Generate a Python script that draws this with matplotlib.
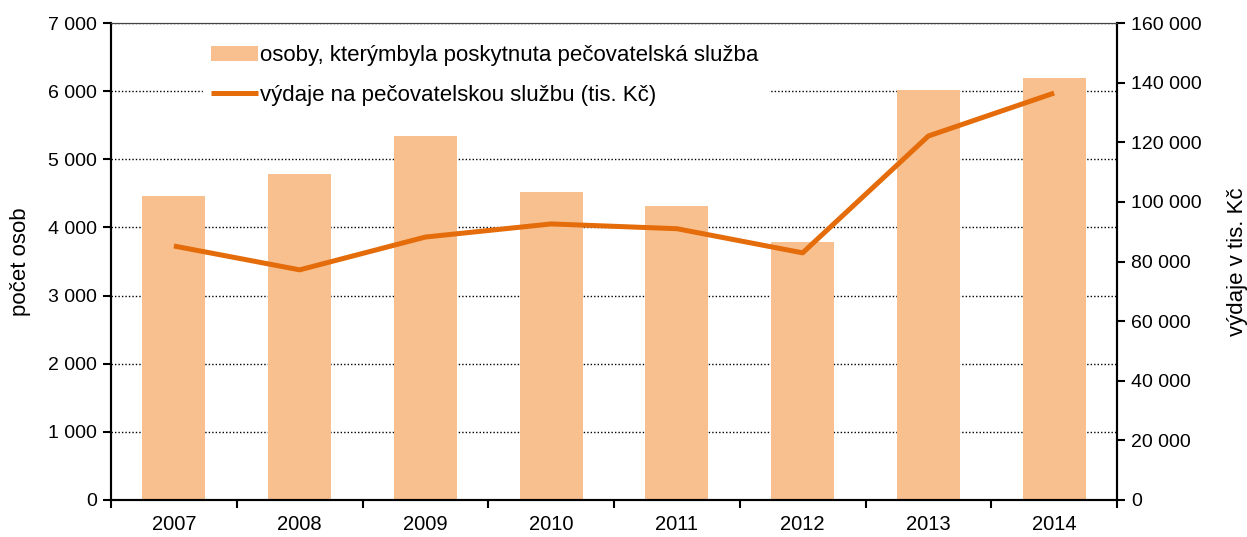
import matplotlib
matplotlib.use("Agg")
import matplotlib.pyplot as plt
from matplotlib.ticker import FuncFormatter, FixedLocator
import numpy as np

years = ["2007", "2008", "2009", "2010", "2011", "2012", "2013", "2014"]
persons = [4460, 4785, 5340, 4520, 4315, 3790, 6015, 6195]
expenses = [85200, 77200, 88200, 92600, 91000, 82900, 122100, 136500]

bar_color = "#F9C08F"
line_color = "#E46C0A"

plt.rcParams['font.family'] = ['Liberation Sans', 'DejaVu Sans']

fig = plt.figure(figsize=(12.47, 5.37), dpi=100)
ax = fig.add_axes([111/1247, 37/537, (1117-111)/1247, (500-23)/537])
ax2 = ax.twinx()

x = np.arange(len(years))
bars = ax.bar(x, persons, width=0.5, color=bar_color, zorder=2,
              label="osoby, kterýmbyla poskytnuta pečovatelská služba")
ax.set_xlim(-0.5, len(years) - 0.5)
ax.set_ylim(0, 7000)
ax.set_yticks(np.arange(0, 7001, 1000))
fmt = FuncFormatter(lambda v, p: f"{int(v):,}".replace(",", " "))
ax.yaxis.set_major_formatter(fmt)
ax.grid(axis="y", linestyle=(0, (1, 1.5)), color="black", linewidth=1.0, zorder=0)
ax.set_axisbelow(True)

ax.set_xticks(x)
ax.set_xticklabels(years)
ax.xaxis.set_minor_locator(FixedLocator(np.arange(-0.5, len(years), 1)))
ax.tick_params(axis="x", which="major", length=0, pad=11, labelsize=14.5)
ax.tick_params(axis="x", which="minor", length=6, width=1.5, direction="out")
ax.tick_params(axis="y", length=6, width=1.5, direction="out", labelsize=14, pad=4)

line, = ax2.plot(x, expenses, color=line_color, linewidth=3.6, zorder=3,
                 solid_capstyle="butt",
                 label="výdaje na pečovatelskou službu (tis. Kč)")
ax2.set_ylim(0, 160000)
ax2.set_yticks(np.arange(0, 160001, 20000))
ax2.yaxis.set_major_formatter(fmt)
ax2.tick_params(axis="y", length=6, width=1.5, direction="out", labelsize=14, pad=4)

for a in (ax, ax2):
    for s in ("left", "right", "bottom"):
        a.spines[s].set_linewidth(1.5)
        a.spines[s].set_color("black")
    a.spines["top"].set_linewidth(0.8)
    a.spines["top"].set_color("#444444")

ax.set_ylabel("počet osob", fontsize=16, labelpad=12)
ax2.set_ylabel("výdaje v tis. Kč", fontsize=16, labelpad=18)

leg = ax2.legend([bars, line], [bars.get_label(), line.get_label()],
                 loc="upper left", bbox_to_anchor=(0.08, 0.995),
                 frameon=True, fontsize=16, handlelength=2.1, handletextpad=0.1,
                 borderpad=0.4, labelspacing=0.85, fancybox=False)
leg.get_frame().set_edgecolor("white")
leg.get_frame().set_facecolor("white")
leg.get_frame().set_alpha(1)

fig.savefig("out.png", dpi=100)
